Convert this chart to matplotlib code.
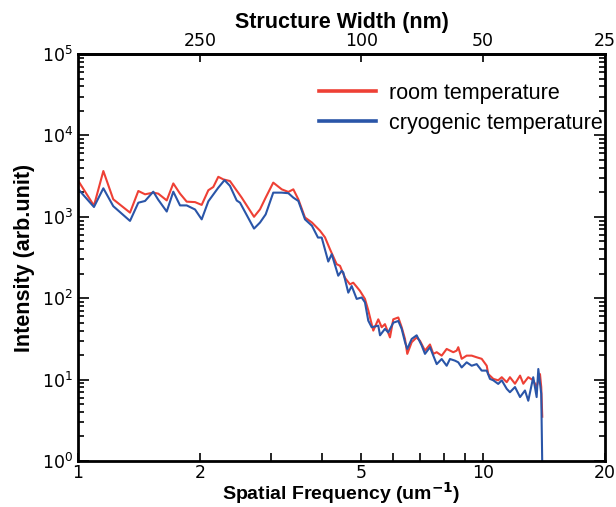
import numpy as np
import matplotlib
matplotlib.use("Agg")
import matplotlib.pyplot as plt
from matplotlib.ticker import FixedLocator, FixedFormatter, NullLocator, LogLocator

# spatial frequency (um^-1) and intensity
freq_room = [1.000, 1.095, 1.155, 1.222, 1.344, 1.409, 1.464, 1.534, 1.578, 1.656,
             1.719, 1.786, 1.855, 1.945, 2.020, 2.098, 2.158, 2.220, 2.285, 2.372,
             2.536, 2.720, 2.814, 2.906, 3.034, 3.184, 3.306, 3.401, 3.499, 3.634,
             3.781, 3.957, 4.071, 4.188, 4.351, 4.434, 4.561, 4.692, 4.781, 4.875,
             4.967, 5.110, 5.207, 5.358, 5.512, 5.620, 5.725, 5.891, 6.002, 6.176,
             6.296, 6.415, 6.500, 6.665, 6.856, 6.986, 7.188, 7.395, 7.536, 7.683,
             7.904, 8.131, 8.442, 8.606, 8.686, 8.855, 9.110, 9.373, 9.643, 9.922,
             10.21, 10.30, 10.60, 10.90, 11.12, 11.44, 11.65, 11.99, 12.34, 12.57,
             12.93, 13.30, 13.56, 13.82, 13.92, 14.00]
room = [2800, 1370, 3650, 1640, 1125, 2075, 1890, 1980, 1925, 1590,
        2570, 1925, 1535, 1515, 1400, 2120, 2325, 3100, 2880, 2750,
        1720, 1000, 1235, 1720, 2630, 2175, 2020, 2175, 1640, 980,
        850, 675, 560, 400, 262, 250, 178, 148, 155, 138,
        123, 98, 71, 40, 55, 44, 48, 33, 55, 58,
        44, 31.6, 20.7, 28.8, 33, 30, 22.7, 27, 20.7, 21.7,
        19.7, 23.8, 21.7, 22.7, 25, 18, 19.7, 19.7, 18.8, 18,
        14.8, 11.7, 10.2, 9.8, 10.7, 9.3, 10.7, 8.9, 11.2, 8.9,
        10.7, 9.8, 8.1, 11.7, 8.1, 3.5]

freq_cryo = [1.000, 1.095, 1.155, 1.222, 1.344, 1.409, 1.464, 1.534, 1.578, 1.656,
             1.719, 1.786, 1.855, 1.945, 2.020, 2.098, 2.220, 2.300, 2.372, 2.465,
             2.512, 2.720, 2.814, 2.906, 3.034, 3.184, 3.306, 3.401, 3.499, 3.634,
             3.781, 3.912, 3.996, 4.148, 4.230, 4.390, 4.477, 4.518, 4.648, 4.739,
             4.875, 5.015, 5.110, 5.207, 5.309, 5.512, 5.567, 5.725, 5.834, 6.002,
             6.176, 6.296, 6.415, 6.500, 6.665, 6.856, 7.053, 7.188, 7.395, 7.536,
             7.683, 7.904, 8.131, 8.285, 8.523, 8.686, 8.855, 9.110, 9.373, 9.643,
             9.922, 10.21, 10.40, 10.60, 10.90, 11.12, 11.44, 11.65, 11.99, 12.34,
             12.69, 12.93, 13.30, 13.56, 13.69, 13.92, 14.00]
cryo = [2200, 1320, 2240, 1350, 890, 1490, 1565, 2035, 1620, 1160,
        2035, 1380, 1380, 1230, 930, 1550, 2280, 2820, 2400, 1585,
        1490, 716, 850, 1070, 1980, 1980, 1950, 1720, 1565, 930,
        775, 556, 556, 282, 347, 189, 217, 207, 117, 141,
        98, 102, 89, 53, 44, 46, 35, 42, 38, 50,
        52.5, 42, 29, 23.8, 31.6, 35, 26.3, 20.7, 25, 19.7,
        15.5, 17.9, 14.8, 17.9, 17.1, 16.3, 14.1, 16.3, 14.8, 15.5,
        12.9, 12.9, 10.2, 9.8, 8.85, 9.8, 7.7, 7.0, 8.1, 6.1,
        7.35, 5.5, 10.7, 6.1, 13.5, 6.7, 0.9]

freq_ticks = [1, 2, 5, 10, 20]
width_ticks = [250, 100, 50, 25]

plt.rcParams['font.family'] = ['Liberation Sans', 'DejaVu Sans']

fig = plt.figure(figsize=(6.16, 5.07), dpi=100)
ax = fig.add_axes([78 / 616, 46 / 507, 527 / 616, 407 / 507])

ax.plot(freq_room, room, color='#ee4035', lw=1.5, label='room temperature')
ax.plot(freq_cryo, cryo, color='#2a55a8', lw=1.5, label='cryogenic temperature')

ax.set_xscale('log')
ax.set_yscale('log')
ax.set_xlim(1, 20)
ax.set_ylim(1, 1e5)

ax.xaxis.set_major_locator(FixedLocator(freq_ticks))
ax.xaxis.set_major_formatter(FixedFormatter([str(t) for t in freq_ticks]))
ax.xaxis.set_minor_locator(FixedLocator([3, 4, 6, 7, 8, 9]))
ax.yaxis.set_major_locator(LogLocator(base=10, numticks=10))
ax.yaxis.set_minor_locator(LogLocator(base=10, subs=np.arange(2, 10), numticks=10))

for lab in ax.get_xticklabels() + ax.get_yticklabels():
    lab.set_family('DejaVu Sans')
ax.tick_params(axis='both', which='both', direction='in', labelsize=12.5, width=1.2)
ax.tick_params(axis='x', which='both', length=6, top=False, pad=2)
ax.tick_params(axis='y', which='major', length=8, right=True)
ax.tick_params(axis='y', which='minor', length=4, right=True)
for s in ax.spines.values():
    s.set_linewidth(2)

sec = ax.secondary_xaxis('top', functions=(lambda f: 500 / f, lambda w: 500 / w))
sec.xaxis.set_major_locator(FixedLocator(width_ticks))
sec.xaxis.set_major_formatter(FixedFormatter([str(t) for t in width_ticks]))
sec.xaxis.set_minor_locator(NullLocator())
sec.tick_params(direction='in', length=6, width=1.2, labelsize=12.5, pad=3)
for lab in sec.get_xticklabels():
    lab.set_family('DejaVu Sans')
sec.spines['top'].set_linewidth(2)
sec.set_xlabel('Structure Width (nm)', fontsize=15.5, fontweight='bold', labelpad=3)

ax.set_xlabel(r'Spatial Frequency (um$^{\mathbf{-1}}$)', fontsize=14,
              fontweight='bold', labelpad=-1)
ax.set_ylabel('Intensity (arb.unit)', fontsize=15.5, fontweight='bold', labelpad=5)

leg = ax.legend(loc='upper left', bbox_to_anchor=(0.42, 0.977), frameon=False,
                fontsize=15.5, handlelength=2.65, handletextpad=0.6, labelspacing=0.42)
for h in leg.get_lines():
    h.set_linewidth(2.6)

fig.savefig('out.png', dpi=100)
